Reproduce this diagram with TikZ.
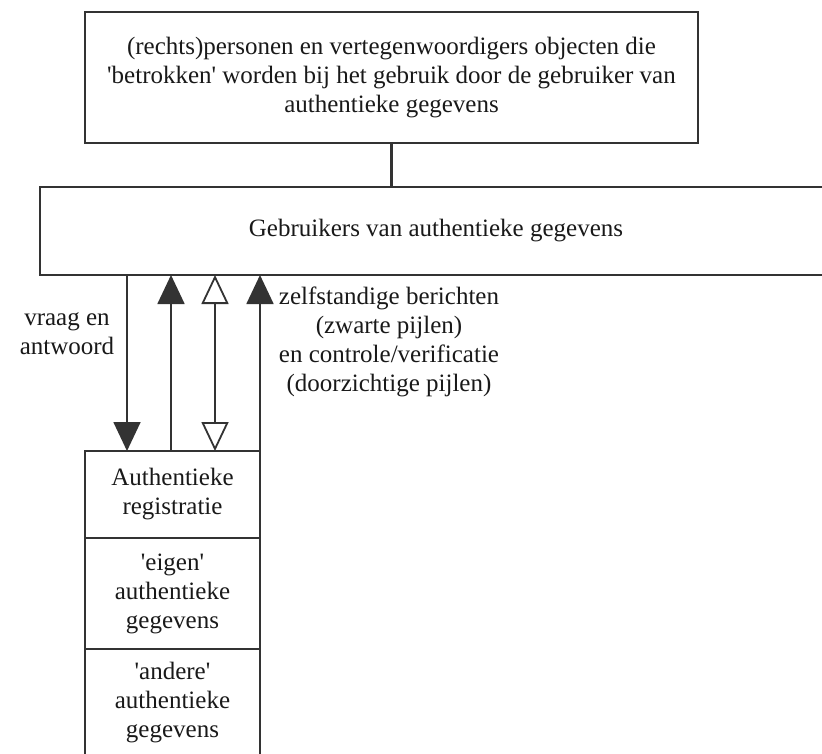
\documentclass[tikz,border=0pt]{standalone}
\usepackage{fontspec}
\setmainfont{Liberation Serif}
\usetikzlibrary{positioning}
\usetikzlibrary{arrows.meta}
\tikzset{blok/.style={draw=black!80,line width=1.8pt,align=center,inner sep=0pt,outer sep=0pt,font=\fontsize{25}{29}\selectfont}}
\tikzset{lbl/.style={align=center,inner sep=0pt,font=\fontsize{25}{29}\selectfont}}
\tikzset{lijn/.style={draw=black!80,line width=1.8pt}}
\tikzset{vol/.style={lijn,-{Triangle[width=27pt,length=29pt]}}}
\tikzset{hol/.style={lijn,{Triangle[open,width=27pt,length=29pt,fill=white]}-{Triangle[open,width=27pt,length=29pt,fill=white]}}}

\begin{document}
\begin{tikzpicture}[x=1pt,y=-1pt,text=black!90]
        \useasboundingbox (0,0) rectangle (822,753);

        \node[blok,minimum width=613pt,minimum height=131pt] (P) at (391.5,77.5)
            {(rechts)personen en vertegenwoordigers objecten die\\
             \textquotesingle betrokken\textquotesingle\ worden bij het gebruik door de gebruiker van\\
             authentieke gegevens};
        \node[blok,minimum width=792pt,minimum height=88pt] (G) at (436,231)
            {Gebruikers van authentieke gegevens};

        \node[blok,minimum width=175pt,minimum height=87pt] (AR) at (172.5,494.5)
            {Authentieke\\registratie};
        \node[blok,minimum width=175pt,minimum height=111pt,below=0pt of AR] (EG)
            {\textquotesingle eigen\textquotesingle\\authentieke\\gegevens};
        \node[blok,minimum width=175pt,minimum height=108pt,below=0pt of EG] (AG)
            {\textquotesingle andere\textquotesingle\\authentieke\\gegevens};

        \draw[lijn,line width=2.6pt] (P.south) -- (G.north -| P.south);

        \coordinate (p1) at (127,0);
        \coordinate (p2) at (171,0);
        \coordinate (p3) at (215,0);

        \draw[vol] (G.south -| p1) -- (AR.north -| p1);
        \draw[vol] (AR.north -| p2) -- (G.south -| p2);
        \draw[hol] (AR.north -| p3) -- (G.south -| p3);
        \draw[vol] (AR.north east) -- (G.south -| AR.north east);

        \node[lbl] (vl) at (67,334) {vraag en\\antwoord};
        \node[lbl] (zl) at (389,342) {zelfstandige berichten\\(zwarte pijlen)\\en controle/verificatie\\(doorzichtige pijlen)};
    \end{tikzpicture}
\end{document}
